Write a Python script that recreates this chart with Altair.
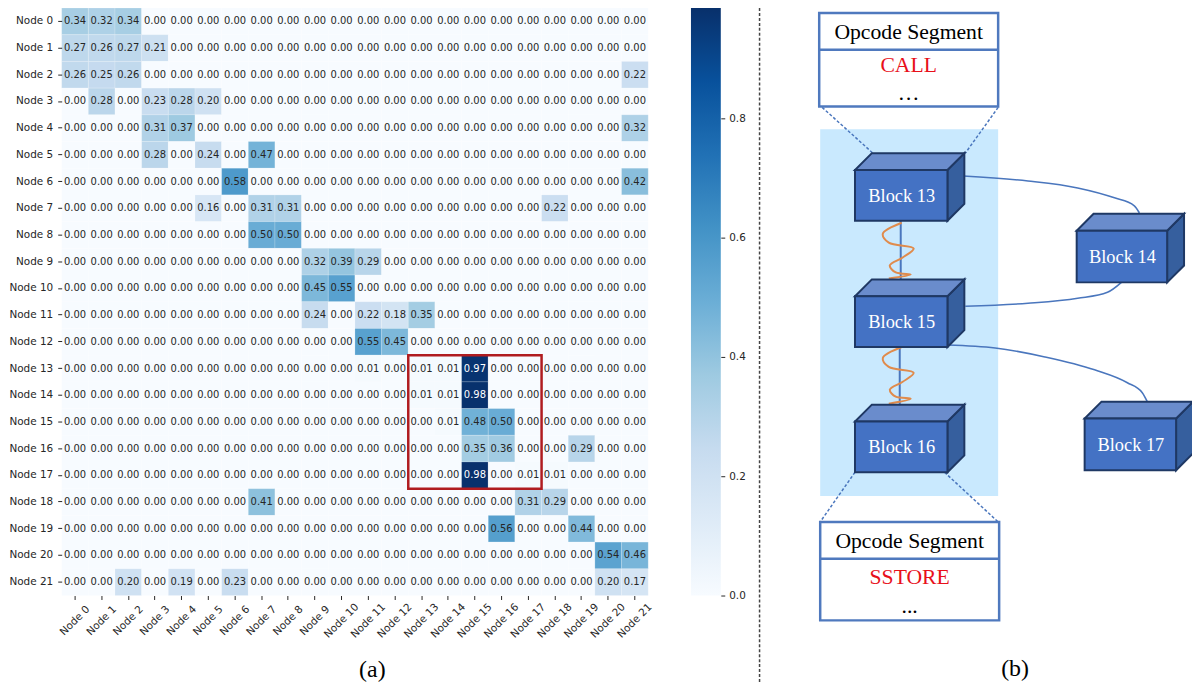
import altair as alt
import pandas as pd

nodes = [f"Node {i}" for i in range(22)]

row_00 = [.34,.32,.34,0,0,0,0,0,0,0,0,0,0,0,0,0,0,0,0,0,0,0]
row_01 = [.27,.26,.27,.21,0,0,0,0,0,0,0,0,0,0,0,0,0,0,0,0,0,0]
row_02 = [.26,.25,.26,0,0,0,0,0,0,0,0,0,0,0,0,0,0,0,0,0,0,.22]
row_03 = [0,.28,0,.23,.28,.20,0,0,0,0,0,0,0,0,0,0,0,0,0,0,0,0]
row_04 = [0,0,0,.31,.37,0,0,0,0,0,0,0,0,0,0,0,0,0,0,0,0,.32]
row_05 = [0,0,0,.28,0,.24,0,.47,0,0,0,0,0,0,0,0,0,0,0,0,0,0]
row_06 = [0,0,0,0,0,0,.58,0,0,0,0,0,0,0,0,0,0,0,0,0,0,.42]
row_07 = [0,0,0,0,0,.16,0,.31,.31,0,0,0,0,0,0,0,0,0,.22,0,0,0]
row_08 = [0,0,0,0,0,0,0,.50,.50,0,0,0,0,0,0,0,0,0,0,0,0,0]
row_09 = [0,0,0,0,0,0,0,0,0,.32,.39,.29,0,0,0,0,0,0,0,0,0,0]
row_10 = [0,0,0,0,0,0,0,0,0,.45,.55,0,0,0,0,0,0,0,0,0,0,0]
row_11 = [0,0,0,0,0,0,0,0,0,.24,0,.22,.18,.35,0,0,0,0,0,0,0,0]
row_12 = [0,0,0,0,0,0,0,0,0,0,0,.55,.45,0,0,0,0,0,0,0,0,0]
row_13 = [0,0,0,0,0,0,0,0,0,0,0,.01,0,.01,.01,.97,0,0,0,0,0,0]
row_14 = [0,0,0,0,0,0,0,0,0,0,0,0,0,.01,.01,.98,0,0,0,0,0,0]
row_15 = [0,0,0,0,0,0,0,0,0,0,0,0,0,0,.01,.48,.50,0,0,0,0,0]
row_16 = [0,0,0,0,0,0,0,0,0,0,0,0,0,0,0,.35,.36,0,0,.29,0,0]
row_17 = [0,0,0,0,0,0,0,0,0,0,0,0,0,0,0,.98,0,.01,.01,0,0,0]
row_18 = [0,0,0,0,0,0,0,.41,0,0,0,0,0,0,0,0,0,.31,.29,0,0,0]
row_19 = [0,0,0,0,0,0,0,0,0,0,0,0,0,0,0,0,.56,0,0,.44,0,0]
row_20 = [0,0,0,0,0,0,0,0,0,0,0,0,0,0,0,0,0,0,0,0,.54,.46]
row_21 = [0,0,.20,0,.19,0,.23,0,0,0,0,0,0,0,0,0,0,0,0,0,.20,.17]
matrix = [row_00,row_01,row_02,row_03,row_04,row_05,row_06,row_07,row_08,row_09,row_10,
          row_11,row_12,row_13,row_14,row_15,row_16,row_17,row_18,row_19,row_20,row_21]

color_stops = [0, .123, .246, .369, .4925, .616, .739, .862, .985]
color_range = ["#f7fbff","#deebf7","#c6dbef","#9ecae1","#6baed6","#4292c6","#2171b5","#08519c","#08306b"]
colorbar_ticks = [0, .2, .4, .6, .8]

INK = "#262626"
SANS = "DejaVu Sans"
SERIF = "Liberation Serif"

cells = pd.DataFrame([
    {"row": nodes[r], "col": nodes[c], "value": v}
    for r, vals in enumerate(matrix) for c, v in enumerate(vals)
])
color_scale = alt.Scale(domain=color_stops, range=color_range, interpolate="rgb")
x_scale = alt.Scale(domain=nodes, paddingInner=0, paddingOuter=0)
y_scale = alt.Scale(domain=nodes, paddingInner=0, paddingOuter=0)

HM_W, HM_H = 590, 591

rect = alt.Chart(cells).mark_rect(stroke="#ffffff", strokeWidth=.5, strokeOpacity=.35).encode(
    x=alt.X("col:N", scale=x_scale, axis=alt.Axis(
        title="(a)", titleFont=SERIF, titleFontSize=24, titleFontWeight="normal", titleColor="black",
        titleX=312, titleY=74, titleAlign="center", titleBaseline="middle",
        labelAngle=315, labelAlign="center", labelBaseline="middle", labelPadding=21,
        labelFont=SANS, labelFontSize=10.5, labelColor=INK, tickColor=INK, tickSize=4,
        domain=False, grid=False, labelOverlap=False)),
    y=alt.Y("row:N", scale=y_scale, axis=alt.Axis(
        title=None, labelFont=SANS, labelFontSize=10.5, labelColor=INK, tickColor=INK, tickSize=4,
        labelPadding=5, domain=False, grid=False, minExtent=54, maxExtent=54, labelOverlap=False)),
    color=alt.Color("value:Q", scale=color_scale, legend=None),
)

def annot_layer(frame, ink):
    return alt.Chart(frame).mark_text(font=SANS, fontSize=10, color=ink).encode(
        x=alt.X("col:N", scale=x_scale, axis=None),
        y=alt.Y("row:N", scale=y_scale, axis=None),
        text=alt.Text("value:Q", format=".2f"),
    )

annot_dark = annot_layer(cells[cells["value"] < .6], INK)
annot_light = annot_layer(cells[cells["value"] >= .6], "white")

box = alt.Chart(pd.DataFrame([{"x0": 13, "x1": 18, "y0": 13, "y1": 18}])).mark_rect(
    fillOpacity=0, stroke="#b01c20", strokeWidth=2.5).encode(
    x=alt.X("x0:Q", scale=alt.Scale(domain=[0, 22], nice=False), axis=None),
    x2="x1:Q",
    y=alt.Y("y0:Q", scale=alt.Scale(domain=[22, 0], nice=False), axis=None),
    y2="y1:Q",
)
heatmap = alt.layer(rect, annot_dark, annot_light, box).resolve_scale(x="independent", y="independent").properties(
    width=HM_W, height=HM_H)

ramp = alt.Gradient(
    gradient="linear", x1=0, x2=0, y1=1, y2=0,
    stops=[alt.GradientStop(offset=s / color_stops[-1], color=c) for s, c in zip(color_stops, color_range)],
)
colorbar = alt.Chart(pd.DataFrame([{"low": 0, "high": .985}])).mark_rect(color=ramp).encode(
    y=alt.Y("low:Q", scale=alt.Scale(domain=[0, .985], nice=False), axis=alt.Axis(
        orient="right", title=None, values=colorbar_ticks, format=".1f", labelFont=SANS, labelFontSize=10.5,
        labelColor=INK, tickColor=INK, tickSize=4, labelPadding=4, domain=False, grid=False)),
    y2="high:Q",
).properties(width=30, height=HM_H)

# ---- schematic (b), in its own drawing units
X_DOM = [755, 1200]
Y_DOM = [684, 6]
DX = alt.Scale(domain=X_DOM, nice=False, zero=False)
DY = alt.Scale(domain=Y_DOM, nice=False, zero=False)
DW, DH = X_DOM[1] - X_DOM[0], Y_DOM[0] - Y_DOM[1]

def xy():
    return dict(x=alt.X("x:Q", scale=DX, axis=None), y=alt.Y("y:Q", scale=DY, axis=None))

panel_rect = [{"x": 824, "x2": 1003, "y": 128, "y2": 497}]
segment_boxes = [
    {"x": 823, "x2": 1003, "y": 11, "y2": 105, "div": 48},
    {"x": 824, "x2": 1004, "y": 523, "y2": 622, "div": 560},
]
blocks = [
    {"name": "Block 13", "x": 859, "x2": 952, "y": 169, "y2": 220},
    {"name": "Block 15", "x": 859, "x2": 952, "y": 296, "y2": 347},
    {"name": "Block 16", "x": 859, "x2": 952, "y": 422, "y2": 473},
    {"name": "Block 14", "x": 1082, "x2": 1173, "y": 230, "y2": 282},
    {"name": "Block 17", "x": 1090, "x2": 1182, "y": 419, "y2": 471},
]
DEPTH = 17
flow_13_14 = [(968,175),(1033,180),(1083,187),(1120,197),(1140,205),(1145,212)]
flow_14_15 = [(1127,282),(1113,292),(1083,298),(1033,303),(970,306)]
flow_15_17 = [(952,345),(1000,348),(1050,357),(1100,370),(1133,383),(1148,393),(1153,402)]
link_13_15 = [(905,220),(905,279)]
link_15_16 = [(904,347),(904,405)]
wiggle_a = [(906,222),(887,233),(893,242),(918,248),(907,257),(894,265),(900,272),(915,274),(893,278)]
wiggle_b = [(906,347),(887,358),(893,367),(918,373),(907,382),(894,390),(900,397),(915,399),(893,404)]
dashes = [[(826,106),(877,152)], [(1003,106),(970,152)], [(859,473),(824,523)], [(949,473),(1003,523)]]
divider = [(763,6),(763,684)]
labels_black = [("Opcode Segment",913,30.5),("\u2026",913,92),("Opcode Segment",914,542.5),("...",914,608)]
labels_red = [("CALL",913,63.5),("SSTORE",914,578.5)]
label_b = [("(b)",1020,671)]

def path_frame(paths):
    return pd.DataFrame([{"id": i, "i": j, "x": p[0], "y": p[1]} for i, pts in enumerate(paths) for j, p in enumerate(pts)])

def line_layer(paths, **kw):
    return alt.Chart(path_frame(paths)).mark_line(**kw).encode(
        **xy(), detail="id:N", order="i:Q")

def rect_layer(rows, **kw):
    return alt.Chart(pd.DataFrame(rows)).mark_rect(**kw).encode(
        x=alt.X("x:Q", scale=DX, axis=None), x2="x2:Q",
        y=alt.Y("y:Q", scale=DY, axis=None), y2="y2:Q")

side_rows, top_rows = [], []
for b in blocks:
    side_rows += [{"id": b["name"], "x": b["x2"], "y": b["y"], "y2": b["y2"]},
                  {"id": b["name"], "x": b["x2"] + DEPTH, "y": b["y"] - DEPTH, "y2": b["y2"] - DEPTH}]
    top_rows += [{"id": b["name"], "y": b["y"], "x": b["x"], "x2": b["x2"]},
                 {"id": b["name"], "y": b["y"] - DEPTH, "x": b["x"] + DEPTH, "x2": b["x2"] + DEPTH}]

BLOCK_STROKE = "#1f3864"
sides = alt.Chart(pd.DataFrame(side_rows)).mark_area(
    color="#365f9e", stroke=BLOCK_STROKE, strokeWidth=2).encode(
    x=alt.X("x:Q", scale=DX, axis=None),
    y=alt.Y("y:Q", scale=DY, axis=None), y2="y2:Q", detail="id:N")
tops = alt.Chart(pd.DataFrame(top_rows)).mark_area(
    orient="horizontal", color="#6a8ccc", stroke=BLOCK_STROKE, strokeWidth=2).encode(
    y=alt.Y("y:Q", scale=DY, axis=None),
    x=alt.X("x:Q", scale=DX, axis=None), x2="x2:Q", detail="id:N")

def text_layer(rows, color, size):
    df = pd.DataFrame(rows, columns=["t", "x", "y"])
    return alt.Chart(df).mark_text(font=SERIF, fontSize=size, color=color, baseline="middle").encode(**xy(), text="t:N")

block_text = pd.DataFrame([{"t": b["name"], "x": (b["x"] + b["x2"]) / 2 + .5, "y": (b["y"] + b["y2"]) / 2 + .5} for b in blocks])
block_labels = alt.Chart(block_text).mark_text(font=SERIF, fontSize=18.5, color="white", baseline="middle").encode(**xy(), text="t:N")

EDGE = "#4a76bd"
diagram = alt.layer(
    rect_layer(panel_rect, color="#c9e9fe"),
    line_layer([divider], color="#444444", strokeWidth=1.5, strokeDash=[3, 2]),
    line_layer(dashes, color=EDGE, strokeWidth=1.5, strokeDash=[3, 2]),
    rect_layer(segment_boxes, fill="white", stroke="#4f79be", strokeWidth=2.5),
    alt.Chart(pd.DataFrame(segment_boxes)).mark_rule(color="#4f79be", strokeWidth=2.5).encode(
        x=alt.X("x:Q", scale=DX, axis=None), x2="x2:Q", y=alt.Y("div:Q", scale=DY, axis=None)),
    line_layer([flow_13_14, flow_14_15, flow_15_17], color=EDGE, strokeWidth=1.6, interpolate="monotone"),
    line_layer([link_13_15, link_15_16], color=EDGE, strokeWidth=2),
    line_layer([wiggle_a, wiggle_b], color="#e08b4c", strokeWidth=2, interpolate="catmull-rom"),
    sides, tops,
    rect_layer(blocks, color="#4472c4", stroke=BLOCK_STROKE, strokeWidth=2),
    block_labels,
    text_layer(labels_black, "black", 21.8),
    text_layer(labels_red, "#e8101a", 21.8),
    text_layer(label_b, "black", 24),
).properties(width=DW, height=DH)

chart = alt.hconcat(
    heatmap,
    alt.hconcat(colorbar, diagram, spacing=6),
    spacing=37,
).properties(
    padding={"left": 0, "top": -5, "right": -5, "bottom": -5}
).configure_view(stroke=None).configure_axis(grid=False)

chart.save("out.html", embed_options={"renderer": "svg", "actions": False})
